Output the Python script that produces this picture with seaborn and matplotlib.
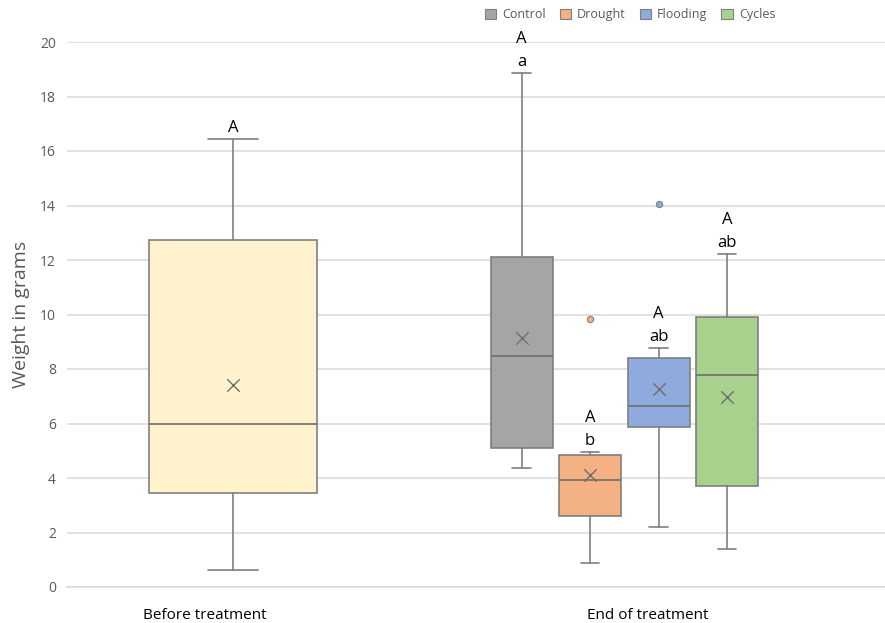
import matplotlib
matplotlib.use("Agg")
import matplotlib.pyplot as plt
from matplotlib.patches import Patch
import seaborn as sns
import pandas as pd

# Summary statistics (grams) for each box
groups = ["Before", "Control", "Drought", "Flooding", "Cycles"]
whisker_low = [0.62, 4.37, 0.88, 2.20, 1.39]
q1 = [3.45, 5.10, 2.60, 5.87, 3.71]
median = [5.98, 8.48, 3.93, 6.64, 7.78]
q3 = [12.73, 12.11, 4.84, 8.40, 9.91]
whisker_high = [16.44, 18.86, 4.95, 8.77, 12.22]
means = [7.41, 9.14, 4.11, 7.27, 6.97]
outliers = [[], [], [9.83], [14.06], []]
letters = [["A"], ["A", "a"], ["A", "b"], ["A", "ab"], ["A", "ab"]]

legend_labels = ["Control", "Drought", "Flooding", "Cycles"]
phase_labels = ["Before treatment", "End of treatment"]
yticks = [0, 2, 4, 6, 8, 10, 12, 14, 16, 18, 20]

colors = ["#FFF2CC", "#A5A5A5", "#F4B183", "#8FAADC", "#A9D18E"]
edge = "#7F7F7F"

sns.set_theme(style="whitegrid")
plt.rcParams["font.family"] = ["Open Sans", "DejaVu Sans"]

fig = plt.figure(figsize=(8.85, 6.23), dpi=100)
ax = fig.add_axes([67 / 885, 36 / 623, 818 / 885, 545 / 623])

positions = [2.44, 6.67, 7.67, 8.68, 9.68]
widths = [2.46, 0.91, 0.91, 0.91, 0.91]
capwidths = [0.73, 0.27, 0.27, 0.27, 0.27]

stats = []
for i, g in enumerate(groups):
    stats.append(dict(label=g, whislo=whisker_low[i], q1=q1[i], med=median[i],
                      q3=q3[i], whishi=whisker_high[i], mean=means[i],
                      fliers=outliers[i]))

bp = ax.bxp(stats, positions=positions, widths=widths, capwidths=capwidths,
            patch_artist=True, showfliers=True, showmeans=False,
            boxprops=dict(edgecolor=edge, linewidth=1.2),
            medianprops=dict(color="#6E6E6E", linewidth=1.2),
            whiskerprops=dict(color=edge, linewidth=1.2),
            capprops=dict(color=edge, linewidth=1.2),
            flierprops=dict(marker="o", markersize=4.5, markeredgewidth=0.8,
                            markeredgecolor="#7F7F7F"))
for patch, c in zip(bp["boxes"], colors):
    patch.set_facecolor(c)
for fl, c in zip(bp["fliers"], colors):
    fl.set_markerfacecolor(c)

# Means as crosses
mean_df = pd.DataFrame({"x": positions, "mean": means})
sns.scatterplot(data=mean_df, x="x", y="mean", marker="x", s=80,
                color="#6E6E6E", linewidth=1.0, ax=ax, zorder=5, legend=False)

# Significance letters stacked above the upper whiskers
for i, labs in enumerate(letters):
    for k, lab in enumerate(reversed(labs)):
        ax.text(positions[i], whisker_high[i] + 0.12 + 0.83 * k, lab,
                ha="center", va="bottom", fontsize=12, color="black")

ax.set_xlim(0, 12)
ax.set_ylim(0, 20)
ax.set_yticks(yticks)
ax.set_yticklabels([str(t) for t in yticks], color="#595959", fontsize=10)
ax.set_xticks([2.02, 8.52])
ax.set_xticklabels(phase_labels, fontsize=11, color="black")
ax.tick_params(axis="x", length=0, pad=15)
ax.tick_params(axis="y", length=0, pad=8)
ax.set_xlabel("")
ax.set_ylabel("Weight in grams", fontsize=14, color="#595959", labelpad=7)

ax.grid(axis="y", color="#D9D9D9", linewidth=1.1)
ax.grid(axis="x", visible=False)
ax.set_axisbelow(True)
for side in ["top", "right", "left"]:
    ax.spines[side].set_visible(False)
ax.spines["bottom"].set_color("#D9D9D9")
ax.spines["bottom"].set_linewidth(1.1)
ax.set_facecolor("white")

handles = [Patch(facecolor=c, edgecolor="#7F7F7F", linewidth=0.8)
           for c in colors[1:]]
fig.legend(handles, legend_labels, loc="upper center", ncol=4,
           bbox_to_anchor=(0.712, 1.005), frameon=False, fontsize=9,
           handlelength=0.9, handleheight=0.9, handletextpad=0.5,
           columnspacing=1.1, labelcolor="#595959")

fig.savefig("out.png", dpi=100, facecolor="white")
